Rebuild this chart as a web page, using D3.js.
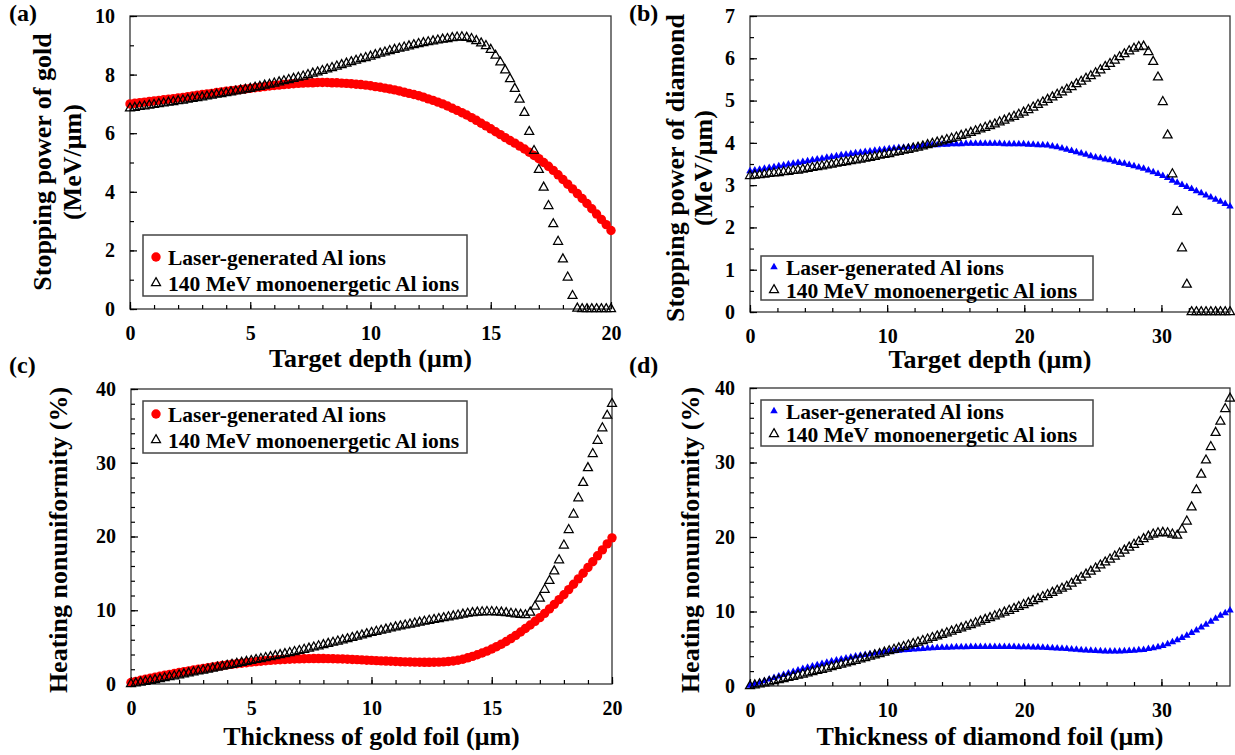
<!DOCTYPE html>
<html>
<head>
<meta charset="utf-8">
<script src="https://cdn.jsdelivr.net/npm/d3@7"></script>
<style>
  html, body { margin: 0; padding: 0; background: #fff; }
  svg text { font-family: "Liberation Serif", "Times New Roman", serif; font-weight: bold; fill: #000; }
</style>
</head>
<body>
<svg id="fig" width="1235" height="755"></svg>
<script>
// ---------- data ----------
const seriesNames = ["Laser-generated Al ions", "140 MeV monoenergetic Al ions"];
const panelTags = ["(a)", "(b)", "(c)", "(d)"];

// depth / thickness grids (µm)
const goldDepth = d3.range(101).map(i => +(i * 0.2).toFixed(2));
const diamondDepth = d3.range(101).map(i => +(i * 0.35).toFixed(2));

// (a) stopping power of gold (MeV/µm)
const goldStopLaser = [7.00,7.02,7.04,7.06,7.08, 7.10,7.12,7.14,7.16,7.18, 7.20,7.22,7.25,7.27,7.30, 7.32,7.34,7.36,7.39,7.41,
  7.43,7.45,7.47,7.49,7.51, 7.53,7.55,7.57,7.59,7.61, 7.63,7.64,7.66,7.67,7.69, 7.70,7.71,7.72,7.72,7.73,
  7.73,7.73,7.72,7.72,7.71, 7.70,7.69,7.67,7.66,7.64, 7.62,7.59,7.57,7.54,7.51, 7.48,7.44,7.40,7.36,7.32,
  7.28,7.23,7.17,7.12,7.06, 7.00,6.93,6.85,6.78,6.70, 6.62,6.53,6.44,6.34,6.25, 6.15,6.05,5.95,5.85,5.75,
  5.66,5.56,5.46,5.35,5.24, 5.13,5.00,4.87,4.73,4.58, 4.42,4.26,4.10,3.94,3.77, 3.60,3.42,3.24,3.06,2.88, 2.68];
const goldStopMono = [6.85,6.87,6.90,6.92,6.95, 6.97,7.00,7.02,7.05,7.07, 7.10,7.12,7.15,7.18,7.20, 7.23,7.26,7.29,7.32,7.34,
  7.37,7.40,7.43,7.46,7.49, 7.52,7.56,7.59,7.63,7.66, 7.70,7.74,7.78,7.82,7.86, 7.90,7.94,7.99,8.04,8.08,
  8.13,8.18,8.23,8.28,8.33, 8.38,8.43,8.48,8.53,8.57, 8.62,8.67,8.72,8.76,8.81, 8.85,8.89,8.93,8.97,9.01,
  9.05,9.08,9.11,9.14,9.17, 9.20,9.22,9.25,9.27,9.28, 9.26,9.22,9.15,9.07,8.98, 8.85,8.65,8.42,8.15,7.85,
  7.52,7.15,6.70,6.05,5.40, 4.75,4.15,3.52,2.90,2.30, 1.70,1.08,0.45,0.02,0, 0,0,0,0,0, 0];

// (b) stopping power of diamond (MeV/µm)
const diamondStopLaser = [3.33,3.35,3.37,3.39,3.41, 3.43,3.45,3.47,3.49,3.51, 3.53,3.55,3.57,3.59,3.61, 3.63,3.65,3.67,3.69,3.71,
  3.72,3.74,3.76,3.77,3.79, 3.80,3.82,3.83,3.84,3.86, 3.87,3.88,3.89,3.90,3.91, 3.92,3.93,3.94,3.95,3.95,
  3.96,3.96,3.97,3.97,3.97, 3.98,3.98,3.98,3.98,3.98, 3.98,3.98,3.98,3.97,3.97, 3.97,3.97,3.97,3.96,3.96,
  3.95,3.95,3.94,3.92,3.90, 3.87,3.84,3.81,3.78,3.75, 3.72,3.69,3.66,3.64,3.61, 3.59,3.56,3.53,3.51,3.48,
  3.45,3.42,3.39,3.35,3.31, 3.27,3.22,3.17,3.11,3.06, 3.01,2.96,2.91,2.86,2.81, 2.76,2.71,2.66,2.61,2.56, 2.50];
const diamondStopMono = [3.22,3.23,3.24,3.25,3.27, 3.28,3.29,3.31,3.32,3.34, 3.35,3.37,3.39,3.41,3.43, 3.45,3.47,3.49,3.51,3.53,
  3.55,3.57,3.59,3.61,3.63, 3.65,3.67,3.70,3.72,3.74, 3.77,3.79,3.82,3.84,3.87, 3.89,3.92,3.95,3.98,4.01,
  4.04,4.07,4.10,4.13,4.17, 4.20,4.24,4.28,4.32,4.36, 4.40,4.44,4.49,4.53,4.58, 4.62,4.67,4.72,4.78,4.84,
  4.90,4.96,5.02,5.08,5.14, 5.20,5.26,5.32,5.39,5.45, 5.52,5.58,5.65,5.72,5.80, 5.87,5.95,6.03,6.10,6.17,
  6.23,6.27,6.28,6.15,5.92, 5.55,4.97,4.18,3.26,2.37, 1.51,0.65,0,0,0, 0,0,0,0,0, 0];

// (c) heating nonuniformity in gold foil (%)
const goldHeatLaser = [0.20,0.35,0.50,0.64,0.78, 0.92,1.05,1.18,1.31,1.43, 1.55,1.67,1.78,1.89,2.00, 2.10,2.20,2.30,2.40,2.50,
  2.59,2.67,2.75,2.82,2.89, 2.96,3.03,3.09,3.15,3.20, 3.25,3.29,3.33,3.36,3.39, 3.41,3.43,3.44,3.45,3.45,
  3.45,3.44,3.43,3.41,3.39, 3.36,3.33,3.30,3.27,3.23, 3.20,3.17,3.14,3.11,3.08, 3.05,3.02,3.00,2.98,2.96,
  2.95,2.94,2.94,2.95,2.96, 3.00,3.05,3.12,3.22,3.36, 3.55,3.74,3.96,4.20,4.46, 4.75,5.06,5.40,5.76,6.16,
  6.60,7.05,7.52,8.00,8.50, 9.00,9.58,10.18,10.80,11.44, 12.10,12.80,13.52,14.26,15.02, 15.80,16.58,17.38,18.18,19.00, 19.82];
const goldHeatMono = [0.00,0.10,0.21,0.32,0.43, 0.55,0.68,0.81,0.94,1.07, 1.20,1.33,1.46,1.59,1.72, 1.85,1.98,2.11,2.24,2.37,
  2.50,2.63,2.76,2.89,3.02, 3.15,3.28,3.41,3.54,3.67, 3.80,3.94,4.08,4.22,4.36, 4.50,4.66,4.82,4.98,5.14,
  5.30,5.46,5.62,5.78,5.94, 6.10,6.27,6.44,6.61,6.78, 6.95,7.10,7.25,7.40,7.55, 7.70,7.83,7.96,8.09,8.22,
  8.35,8.47,8.59,8.71,8.83, 8.95,9.07,9.19,9.31,9.43, 9.55,9.63,9.70,9.75,9.78, 9.78,9.75,9.70,9.63,9.55,
  9.47,9.40,9.35,9.70,10.50, 11.60,12.80,14.00,15.30,16.80, 18.80,20.90,23.00,25.20,27.30, 29.30,31.20,33.00,34.70,36.40, 38.00];

// (d) heating nonuniformity in diamond foil (%)
const diamondHeatLaser = [0.05,0.25,0.46,0.67,0.88, 1.09,1.30,1.51,1.71,1.91, 2.10,2.29,2.47,2.65,2.82, 2.99,3.15,3.30,3.45,3.59,
  3.72,3.85,3.97,4.08,4.19, 4.29,4.38,4.47,4.55,4.62, 4.69,4.75,4.81,4.86,4.91, 4.96,5.00,5.04,5.08,5.11,
  5.14,5.17,5.19,5.21,5.23, 5.24,5.25,5.26,5.27,5.27, 5.27,5.27,5.27,5.26,5.26, 5.25,5.24,5.23,5.22,5.20,
  5.18,5.16,5.13,5.10,5.06, 5.02,4.98,4.93,4.88,4.83, 4.79,4.75,4.72,4.69,4.67, 4.66,4.66,4.67,4.69,4.72,
  4.76,4.81,4.87,4.98,5.08, 5.22,5.40,5.62,5.88,6.16, 6.46,6.78,7.12,7.48,7.86, 8.25,8.65,9.05,9.45,9.80, 10.15];
const diamondHeatMono = [0.00,0.12,0.25,0.38,0.52, 0.66,0.80,0.95,1.10,1.25, 1.40,1.56,1.72,1.88,2.04, 2.20,2.37,2.54,2.71,2.88,
  3.05,3.23,3.41,3.59,3.77, 3.95,4.13,4.31,4.50,4.69, 4.88,5.07,5.26,5.46,5.66, 5.86,6.06,6.26,6.47,6.68,
  6.89,7.10,7.32,7.54,7.76, 7.98,8.21,8.44,8.67,8.90, 9.14,9.38,9.62,9.87,10.12, 10.37,10.63,10.89,11.15,11.42,
  11.69,11.96,12.24,12.52,12.81, 13.08,13.35,13.75,14.15,14.56, 14.97,15.38,15.79,16.20,16.60, 17.00,17.40,17.80,18.20,18.60,
  18.98,19.36,19.74,20.08,20.35, 20.52,20.58,20.52,20.35,20.20, 21.00,22.10,24.00,26.30,28.40, 30.30,32.10,34.00,35.50,37.20, 38.60];

// axis ticks
const goldXTicks = [0, 5, 10, 15, 20];
const diamondXTicks = [0, 10, 20, 30];
const goldStopTicks = [0, 2, 4, 6, 8, 10];
const diamondStopTicks = [0, 1, 2, 3, 4, 5, 6, 7];
const heatTicks = [0, 10, 20, 30, 40];

// ---------- layout ----------
const FONT_TICK = 20, FONT_TITLE = 26, FONT_LEGEND = 21.5, FONT_TAG = 24;

const panels = [
  { tag: panelTags[0], x: goldDepth, laser: goldStopLaser, mono: goldStopMono, laserMark: "circle",
    left: 130, right: 611, top: 16, bottom: 309, xDomain: [0, 20], yDomain: [0, 10],
    xTicks: goldXTicks, xMinorStep: 1, yTicks: goldStopTicks, yMinorStep: 1,
    xTitle: "Target depth (\u03bcm)", xTitleY: 367,
    yTitle: ["Stopping power of gold", "(MeV/\u03bcm)"], yTitleX: [51, 81], yTitleCY: 162,
    tagPos: [9, 21], legend: { x: 143, y: 235, w: 324, h: 61, rows: [257, 283] } },
  { tag: panelTags[1], x: diamondDepth, laser: diamondStopLaser, mono: diamondStopMono, laserMark: "triangle",
    left: 750, right: 1230, top: 16, bottom: 312, xDomain: [0, 35], yDomain: [0, 7],
    xTicks: diamondXTicks, xMinorStep: 2, yTicks: diamondStopTicks, yMinorStep: 0.5,
    xTitle: "Target depth (\u03bcm)", xTitleY: 368,
    yTitle: ["Stopping power of diamond", "(MeV/\u03bcm)"], yTitleX: [684, 712], yTitleCY: 168,
    tagPos: [629, 21], legend: { x: 761, y: 256, w: 332, h: 44, rows: [267, 290] } },
  { tag: panelTags[2], x: goldDepth, laser: goldHeatLaser, mono: goldHeatMono, laserMark: "circle",
    left: 131, right: 612, top: 389, bottom: 684, xDomain: [0, 20], yDomain: [0, 40],
    xTicks: goldXTicks, xMinorStep: 1, yTicks: heatTicks, yMinorStep: 2,
    xTitle: "Thickness of gold foil (\u03bcm)", xTitleY: 745,
    yTitle: ["Heating nonuniformity (%)"], yTitleX: [67], yTitleCY: 540,
    tagPos: [9, 373], legend: { x: 143, y: 401, w: 324, h: 52, rows: [414, 440] } },
  { tag: panelTags[3], x: diamondDepth, laser: diamondHeatLaser, mono: diamondHeatMono, laserMark: "triangle",
    left: 750, right: 1230, top: 388, bottom: 686, xDomain: [0, 35], yDomain: [0, 40],
    xTicks: diamondXTicks, xMinorStep: 2, yTicks: heatTicks, yMinorStep: 2,
    xTitle: "Thickness of diamond foil (\u03bcm)", xTitleY: 745,
    yTitle: ["Heating nonuniformity (%)"], yTitleX: [699], yTitleCY: 540,
    tagPos: [629, 373], legend: { x: 761, y: 400, w: 332, h: 46, rows: [411, 434] } }
];

const RED = "#ff0000", BLUE = "#0000ff";

// triangle path centred on its centroid, side s and height h
function triPath(s, h) {
  return `M0,${-h * 2 / 3}L${s / 2},${h / 3}L${-s / 2},${h / 3}Z`;
}
const openTri = triPath(9, 8);
const blueTri = triPath(7.5, 6.5);

const svg = d3.select("#fig");
svg.append("rect").attr("width", 1235).attr("height", 755).attr("fill", "#fff");

function drawMarker(g, kind, cx, cy) {
  if (kind === "circle") {
    g.append("circle").attr("cx", cx).attr("cy", cy).attr("r", 4.7).attr("fill", RED);
  } else if (kind === "triangle") {
    g.append("path").attr("d", blueTri).attr("transform", `translate(${cx},${cy})`).attr("fill", BLUE);
  } else {
    g.append("path").attr("d", openTri).attr("transform", `translate(${cx},${cy})`)
      .attr("fill", "none").attr("stroke", "#000").attr("stroke-width", 1.25);
  }
}

panels.forEach(p => {
  const x = d3.scaleLinear().domain(p.xDomain).range([p.left, p.right]);
  const y = d3.scaleLinear().domain(p.yDomain).range([p.bottom, p.top]);
  const g = svg.append("g");

  // frame
  g.append("rect").attr("x", p.left).attr("y", p.top)
    .attr("width", p.right - p.left).attr("height", p.bottom - p.top)
    .attr("fill", "none").attr("stroke", "#333").attr("stroke-width", 1.3);

  const xMinor = d3.range(p.xDomain[0], p.xDomain[1] + 1e-9, p.xMinorStep);
  const yMinor = d3.range(p.yDomain[0], p.yDomain[1] + 1e-9, p.yMinorStep);

  const styleAxis = a => {
    a.select(".domain").remove();
    a.attr("color", "#000");
    a.selectAll("line").attr("stroke-width", 1.2);
    a.selectAll("text").style("font-size", FONT_TICK + "px").attr("fill", "#000");
  };

  // minor ticks (inward)
  g.append("g").attr("transform", `translate(0,${p.bottom})`)
    .call(d3.axisBottom(x).tickValues(xMinor).tickSize(-4).tickFormat(""))
    .call(styleAxis);
  g.append("g").attr("transform", `translate(${p.left},0)`)
    .call(d3.axisLeft(y).tickValues(yMinor).tickSize(-4).tickFormat(""))
    .call(styleAxis);

  // major ticks with labels
  g.append("g").attr("transform", `translate(0,${p.bottom})`)
    .call(d3.axisBottom(x).tickValues(p.xTicks).tickSize(-7).tickPadding(17).tickFormat(d3.format("d")))
    .call(styleAxis);
  g.append("g").attr("transform", `translate(${p.left},0)`)
    .call(d3.axisLeft(y).tickValues(p.yTicks).tickSize(-7).tickPadding(15).tickFormat(d3.format("d")))
    .call(styleAxis);

  // series: laser-generated first, monoenergetic on top
  const pts = g.append("g");
  p.x.forEach((xv, i) => drawMarker(pts, p.laserMark, x(xv), y(p.laser[i])));
  p.x.forEach((xv, i) => drawMarker(pts, "open", x(xv), y(p.mono[i])));

  // axis titles
  g.append("text").attr("x", (p.left + p.right) / 2).attr("y", p.xTitleY)
    .attr("text-anchor", "middle").style("font-size", FONT_TITLE + "px").text(p.xTitle);
  p.yTitle.forEach((t, k) => {
    g.append("text").attr("transform", `translate(${p.yTitleX[k]},${p.yTitleCY}) rotate(-90)`)
      .attr("text-anchor", "middle").style("font-size", FONT_TITLE + "px").text(t);
  });

  // panel tag
  g.append("text").attr("x", p.tagPos[0]).attr("y", p.tagPos[1])
    .style("font-size", FONT_TAG + "px").text(p.tag);

  // legend
  const L = p.legend;
  const lg = g.append("g");
  lg.append("rect").attr("x", L.x).attr("y", L.y).attr("width", L.w).attr("height", L.h)
    .attr("fill", "#fff").attr("stroke", "#444").attr("stroke-width", 1.5);
  [p.laserMark, "open"].forEach((kind, k) => {
    drawMarker(lg, kind, L.x + 13, L.rows[k]);
    lg.append("text").attr("x", L.x + 25).attr("y", L.rows[k]).attr("dy", "0.35em")
      .style("font-size", FONT_LEGEND + "px").text(seriesNames[k]);
  });
});
</script>
</body>
</html>
